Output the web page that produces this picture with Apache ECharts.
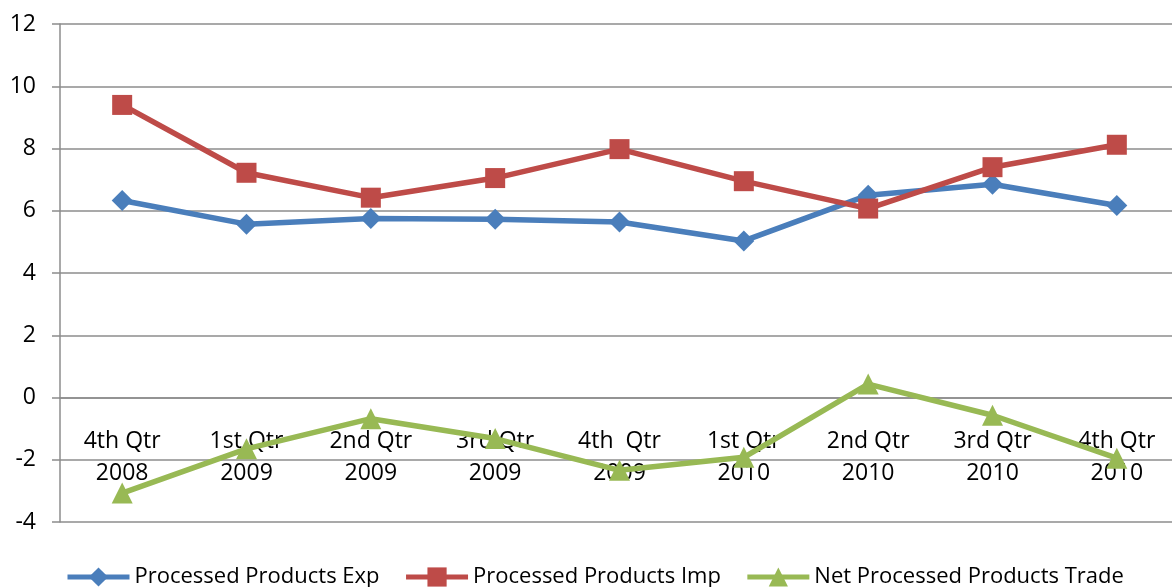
<!DOCTYPE html>
<html>
<head>
<meta charset="utf-8">
<script src="https://cdn.jsdelivr.net/npm/echarts@6/dist/echarts.min.js"></script>
<style>
  html, body { margin: 0; padding: 0; background: #fff; }
  #chart { width: 1172px; height: 587px; }
</style>
</head>
<body>
<div id="chart"></div>
<script>
// quarters along the x axis
const quarters = [
  '4th Qtr\n2008', '1st Qtr\n2009', '2nd Qtr\n2009', '3rd Qtr\n2009', '4th  Qtr\n2009',
  '1st Qtr\n2010', '2nd Qtr\n2010', '3rd Qtr\n2010', '4th Qtr\n2010'
]
const exportsVals = [6.33, 5.57, 5.75, 5.73, 5.64, 5.03, 6.50, 6.85, 6.17]
const importsVals = [9.40, 7.22, 6.42, 7.05, 7.98, 6.95, 6.07, 7.40, 8.12]
const netVals = [-3.07, -1.65, -0.68, -1.32, -2.34, -1.92, 0.43, -0.57, -1.95]
const yMin = -4
const yMax = 12

const font = 'Open Sans'
const grey = '#8c8c8c'
const gridTop = 24
const gridBottom = 65
const plotH = 587 - gridTop - gridBottom

const chart = echarts.init(document.getElementById('chart'))

function lineSeries(name, data, color, symbol, size) {
  return {
    name,
    type: 'line',
    data,
    symbol,
    symbolSize: size,
    lineStyle: { color, width: 5.5 },
    itemStyle: { color },
    emphasis: { disabled: true }
  }
}

chart.setOption({
  animation: false,
  textStyle: { fontFamily: font },
  grid: { left: 60, top: gridTop, bottom: gridBottom, right: -7, outerBoundsMode: 'none', containLabel: false },
  legend: {
    top: 561,
    left: 60,
    itemWidth: 62,
    itemHeight: 24,
    itemGap: 24,
    lineStyle: { width: 5 },
    textStyle: { fontSize: 22, color: '#000', fontFamily: font }
  },
  xAxis: {
    type: 'category',
    data: quarters,
    // sit the axis on the zero line
    offset: -plotH * (0 - yMin) / (yMax - yMin),
    axisLine: { onZero: false, lineStyle: { color: grey, width: 1.5 } },
    axisTick: { length: 7, lineStyle: { color: grey, width: 1.5 } },
    axisLabel: { color: '#000', fontSize: 23, lineHeight: 32, margin: 28, interval: 0 },
    splitLine: { show: false }
  },
  yAxis: {
    type: 'value',
    min: yMin,
    max: yMax,
    interval: 2,
    axisLine: { show: true, lineStyle: { color: grey, width: 1.5 } },
    axisTick: { show: true, length: 8, lineStyle: { color: grey, width: 1.5 } },
    axisLabel: { color: '#000', fontSize: 23, margin: 24 },
    splitLine: { lineStyle: { color: grey, width: 1.5 } }
  },
  series: [
    lineSeries('Processed Products Exp', exportsVals, '#4a7ebb', 'diamond', 21),
    lineSeries('Processed Products Imp', importsVals, '#be4b48', 'rect', 20),
    lineSeries('Net Processed Products Trade', netVals, '#98b954', 'triangle', 21)
  ]
})
</script>
</body>
</html>
